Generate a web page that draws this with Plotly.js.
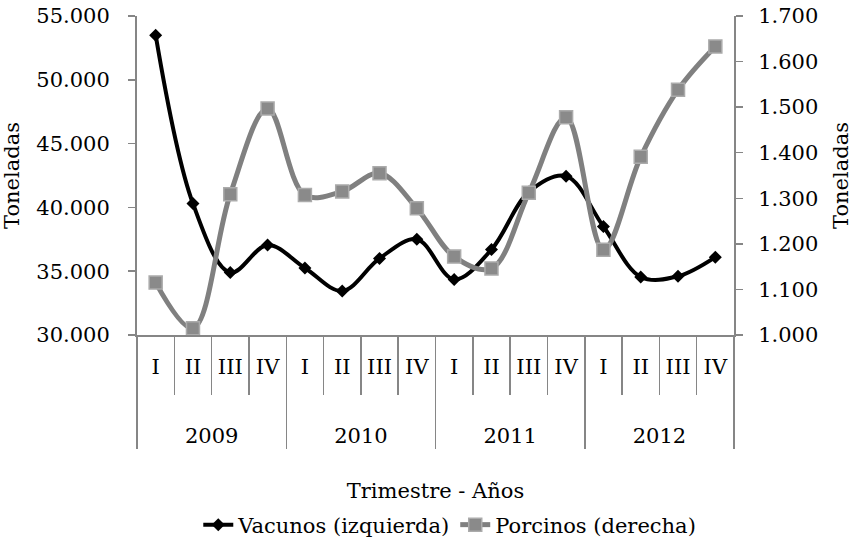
<!DOCTYPE html>
<html>
<head>
<meta charset="utf-8">
<script src="https://cdn.plot.ly/plotly-3.0.1.min.js"></script>
<style>html,body{margin:0;padding:0;background:#fff;}#chart{width:860px;height:539px;}</style>
</head>
<body>
<div id="chart"></div>
<script>
const years = ["2009","2009","2009","2009","2010","2010","2010","2010","2011","2011","2011","2011","2012","2012","2012","2012"];
const quarters = ["I","II","III","IV","I","II","III","IV","I","II","III","IV","I","II","III","IV"];
const vacunos = [53500, 40300, 34900, 37050, 35250, 33450, 36000, 37500, 34350, 36700, 41200, 42450, 38500, 34550, 34600, 36100];
const porcinos = [1115, 1015, 1309, 1497, 1307, 1315, 1355, 1278, 1172, 1146, 1312, 1478, 1187, 1391, 1538, 1633];

const FONT = "DejaVu Serif, Liberation Serif, serif";
const AX = "#868686";

// label rows of the two-level category axis (blank spacer lines set the row heights)
const yearRow = years.map(y => "\u00a0<br>" + y);
const quarterRow = quarters.map(q => q + "<br>\u00a0");

const traces = [
  {
    x: [yearRow, quarterRow], y: vacunos, name: "Vacunos (izquierda)",
    type: "scatter", mode: "lines+markers",
    line: {color: "#000000", width: 4, shape: "spline", smoothing: 1},
    marker: {symbol: "diamond", size: 10, color: "#000000"},
    yaxis: "y"
  },
  {
    x: [yearRow, quarterRow], y: porcinos, name: "Porcinos (derecha)",
    type: "scatter", mode: "lines+markers",
    line: {color: "#808080", width: 5, shape: "spline", smoothing: 1},
    marker: {symbol: "square", size: 13, color: "#8a8a8a", line: {color: "#ababab", width: 1.5}},
    yaxis: "y2"
  }
];

const layout = {
  width: 860, height: 539,
  margin: {l: 137, r: 126, t: 16, b: 204},
  paper_bgcolor: "#ffffff", plot_bgcolor: "#ffffff",
  separators: ",.",
  font: {family: FONT, size: 21, color: "#000000"},
  showlegend: true,
  legend: {orientation: "h", x: 0.523, xanchor: "center", xref: "container",
           y: 0.026, yanchor: "middle", yref: "container",
           font: {family: FONT, size: 21}, tracegroupgap: 0},
  xaxis: {
    type: "multicategory", automargin: false, range: [-0.5, 15.5],
    showline: true, linecolor: AX, linewidth: 2,
    ticks: "outside", tickson: "boundaries", ticklen: 58, tickcolor: AX, tickwidth: 1.5,
    ticklabelstandoff: 12,
    showdividers: true, dividercolor: AX, dividerwidth: 1.5,
    showgrid: false, zeroline: false,
    tickfont: {family: FONT, size: 21},
    title: {text: "Trimestre - Años", font: {family: FONT, size: 21}, standoff: 37}
  },
  yaxis: {
    automargin: false,
    range: [30000, 55000], dtick: 5000, tickformat: ",d",
    showline: true, linecolor: AX, linewidth: 2,
    ticks: "outside", ticklen: 7, tickcolor: AX, tickwidth: 1.5,
    ticklabelstandoff: 14,
    showgrid: false, zeroline: false,
    tickfont: {family: FONT, size: 21},
    title: {text: "Toneladas", font: {family: FONT, size: 21}, standoff: 12}
  },
  yaxis2: {
    automargin: false,
    overlaying: "y", side: "right",
    range: [1000, 1700], dtick: 100, tickformat: ",d",
    showline: true, linecolor: AX, linewidth: 2,
    ticks: "outside", ticklen: 7, tickcolor: AX, tickwidth: 1.5,
    ticklabelstandoff: 11,
    showgrid: false, zeroline: false,
    tickfont: {family: FONT, size: 21},
    title: {text: "Toneladas", font: {family: FONT, size: 21}, standoff: 16}
  }
};

Plotly.newPlot("chart", traces, layout, {displayModeBar: false, staticPlot: true});
</script>
</body>
</html>
